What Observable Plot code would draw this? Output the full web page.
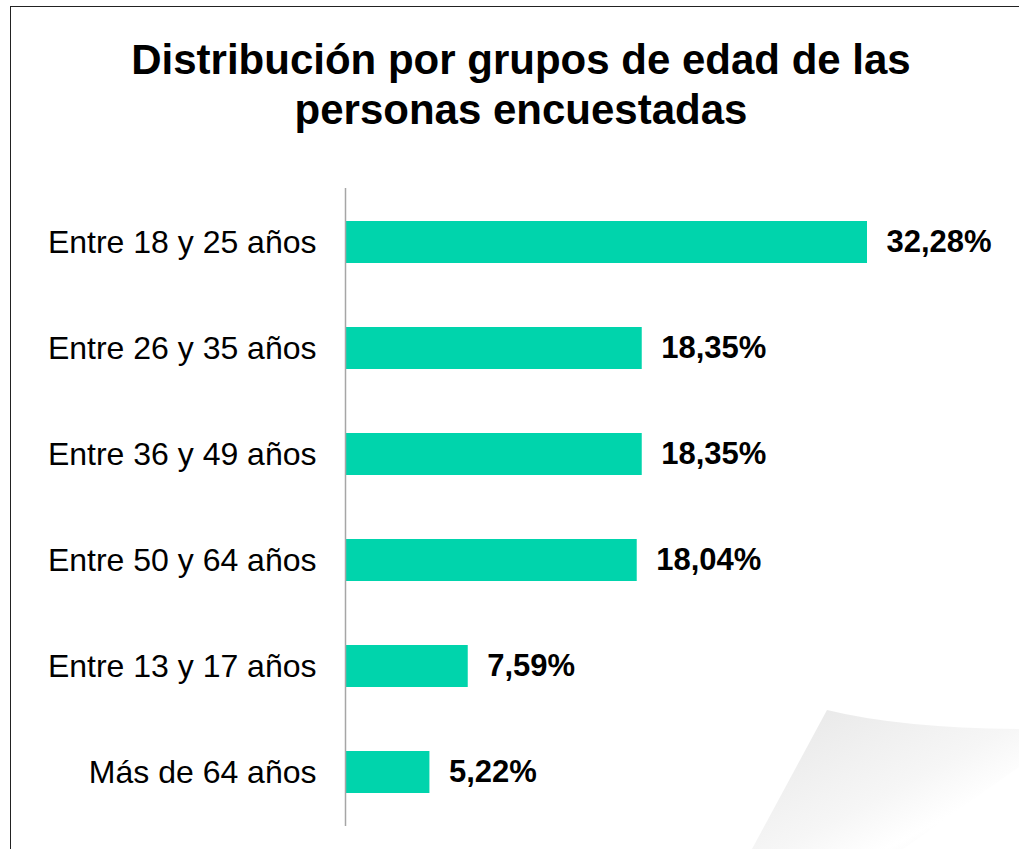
<!DOCTYPE html>
<html>
<head>
<meta charset="utf-8">
<script src="https://cdn.jsdelivr.net/npm/d3@7"></script>
<script src="https://cdn.jsdelivr.net/npm/@observablehq/plot@0.6"></script>
<style>
  body { margin: 0; background: #fff; font-family: "Liberation Sans", Arial, sans-serif; }
  #wrap { position: relative; width: 1019px; height: 849px; overflow: hidden; background: #fff; }
  #frame { position: absolute; left: 10px; top: 6px; width: 1100px; height: 1000px; border: 1.5px solid #222; box-sizing: border-box; }
  #title { position: relative; height: 170px; box-sizing: border-box; padding-top: 35px; margin-left: 10px; width: 1022px;
           text-align: center; font-weight: bold; font-size: 42px; line-height: 50px; color: #000; }
  #chart { position: relative; }
  #curl { position: absolute; left: 0; top: 0; pointer-events: none; }
</style>
</head>
<body>
<div id="wrap">
  <div id="frame"></div>
  <div id="title">Distribución por grupos de edad de las<br>personas encuestadas</div>
  <div id="chart"></div>
  <svg id="curl" width="1019" height="849">
    <defs>
      <linearGradient id="g" x1="0" y1="0" x2="1" y2="1">
        <stop offset="0" stop-color="#e6e6e6"/>
        <stop offset="0.55" stop-color="#f6f6f6"/>
        <stop offset="0.75" stop-color="#ffffff"/>
        <stop offset="1" stop-color="#eeeeee"/>
      </linearGradient>
    </defs>
    <path d="M827,710 Q900,728 1019,729 L1019,767 L903,849 L752,849 Z" fill="url(#g)"/>
  </svg>
</div>
<script>
const categories = ["Entre 18 y 25 años", "Entre 26 y 35 años", "Entre 36 y 49 años", "Entre 50 y 64 años", "Entre 13 y 17 años", "Más de 64 años"];
const values = [32.28, 18.35, 18.35, 18.04, 7.59, 5.22];

const data = categories.map((c, i) => ({category: c, value: values[i]}));
const fmt = v => v.toFixed(2).replace(".", ",") + "%";

const chart = Plot.plot({
  width: 1019,
  height: 679,
  marginLeft: 345,
  marginRight: 152,
  marginTop: 18,
  marginBottom: 23,
  style: {fontFamily: "'Liberation Sans', Arial, sans-serif", background: "transparent", color: "#000"},
  x: {domain: [0, 32.28], axis: null},
  y: {domain: categories, padding: 0, label: null},
  marks: [
    Plot.barX(data, {x: "value", y: "category", fill: "#00d4ac", insetTop: 32, insetBottom: 32}),
    Plot.ruleX([0], {stroke: "#a6a6a6", strokeWidth: 1.5}),
    Plot.axisY({tickSize: 0, tickPadding: 29, fontSize: 32, fill: "#000", label: null}),
    Plot.text(data, {x: "value", y: "category", text: d => fmt(d.value), dx: 19, textAnchor: "start",
                     fontSize: 31, fontWeight: "bold", fill: "#000"})
  ]
});
document.getElementById("chart").appendChild(chart);
</script>
</body>
</html>
